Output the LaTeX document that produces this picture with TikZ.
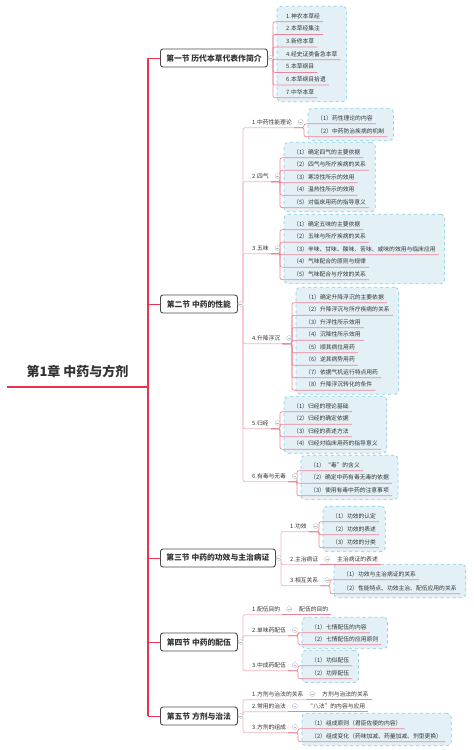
\documentclass[tikz,border=0pt]{standalone}
\usepackage{fontspec}
\setmainfont{Noto Sans CJK SC}
\usetikzlibrary{positioning, fit, backgrounds}
\definecolor{inkgray}{HTML}{333333}
\definecolor{secline}{HTML}{4A4A4A}
\definecolor{trunkred}{HTML}{E8344E}
\definecolor{branchpink}{HTML}{F5B3BF}
\definecolor{twigpink}{HTML}{EC8598}
\definecolor{grpbg}{HTML}{E3F1F6}
\definecolor{grpline}{HTML}{88CDE0}
\definecolor{foldline}{HTML}{B8BEC8}
\tikzset{
  rootnode/.style={
    anchor=south,
    minimum width=141pt,
    text height=10pt,
    text depth=1pt,
    inner ysep=9pt,
    text=inkgray,
    font=\bfseries\fontsize{13pt}{15pt}\selectfont
  },
  secbox/.style={
    anchor=west,
    draw=secline,
    fill=white,
    rounded corners=2.5pt,
    line width=0.9pt,
    minimum height=18pt,
    inner xsep=4pt,
    text=inkgray,
    font=\bfseries\fontsize{7.8pt}{9pt}\selectfont
  },
  topic/.style={
    anchor=west,
    inner xsep=2pt,
    inner ysep=2.5pt,
    text height=5pt,
    text depth=1pt,
    text=inkgray,
    font=\fontsize{5.8pt}{7pt}\selectfont
  },
  leaf/.style={
    topic,
    inner xsep=3pt
  },
  grp/.style={
    draw=grpline,
    dashed,
    fill=grpbg,
    rounded corners=4pt,
    line width=0.7pt,
    inner xsep=6pt,
    inner ysep=4pt
  },
  fold/.style={
    circle,
    draw=foldline,
    fill=white,
    line width=0.4pt,
    minimum size=5pt,
    inner sep=0pt,
    path picture={\draw[foldline, line width=0.5pt]
      ([xshift=-1.4pt]path picture bounding box.center) --
      ([xshift=1.4pt]path picture bounding box.center);}
  },
  trunk/.style={draw=trunkred, line width=1.8pt},
  tick/.style={draw=trunkred, line width=0.8pt},
  branch/.style={draw=branchpink, line width=0.8pt, rounded corners=2pt},
  twig/.style={draw=twigpink, line width=0.7pt, rounded corners=2pt}
}

\begin{document}
\begin{tikzpicture}[x=1pt, y=-1pt]
\useasboundingbox (0,0) rectangle (474,750);

% chapter and sections
\node[rootnode] (root) at (77.5,387) {第1章 中药与方剂};
\node[secbox, minimum width=107pt] (sec1) at (160,58) {第一节 历代本草代表作简介};
\node[secbox, minimum width=77pt] (sec2) at (160,304) {第二节 中药的性能};
\node[secbox, minimum width=115pt] (sec3) at (160,558) {第三节 中药的功效与主治病证};
\node[secbox, minimum width=77pt] (sec4) at (160,642) {第四节 中药的配伍};
\node[secbox, minimum width=77pt] (sec5) at (160,716) {第五节 方剂与治法};

% section 1
\node[leaf] (b1) at (283,16) {1.神农本草经};
\node[leaf] (b2) at (283,28.7) {2.本草经集注};
\node[leaf] (b3) at (283,41.3) {3.新修本草};
\node[leaf] (b4) at (283,54) {4.经史证类备急本草};
\node[leaf] (b5) at (283,66.7) {5.本草纲目};
\node[leaf] (b6) at (283,79.3) {6.本草纲目拾遗};
\node[leaf] (b7) at (283,92) {7.中华本草};

% section 2
\node[topic] (p1) at (250,122) {1.中药性能理论};
\node[leaf] (p1a) at (314,118) {（1）药性理论的内容};
\node[leaf] (p1b) at (314,131) {（2）中药防治疾病的机制};

\node[topic] (p2) at (250,176) {2.四气};
\node[leaf] (p2a) at (290,152) {（1）确定四气的主要依据};
\node[leaf] (p2b) at (290,164.5) {（2）四气与所疗疾病的关系};
\node[leaf] (p2c) at (290,177) {（3）寒凉性所示的效用};
\node[leaf] (p2d) at (290,189.5) {（4）温热性所示的效用};
\node[leaf] (p2e) at (290,202) {（5）对临床用药的指导意义};

\node[topic] (p3) at (250,248) {3.五味};
\node[leaf] (p3a) at (290,224) {（1）确定五味的主要依据};
\node[leaf] (p3b) at (290,236.5) {（2）五味与所疗疾病的关系};
\node[leaf] (p3c) at (290,249) {（3）辛味、甘味、酸味、苦味、咸味的效用与临床应用};
\node[leaf] (p3d) at (290,261.5) {（4）气味配合的原则与规律};
\node[leaf] (p3e) at (290,274) {（5）气味配合与疗效的关系};

\node[topic] (p4) at (250,338) {4.升降浮沉};
\node[leaf] (p4a) at (302,297) {（1）确定升降浮沉的主要依据};
\node[leaf] (p4b) at (302,309.5) {（2）升降浮沉与所疗疾病的关系};
\node[leaf] (p4c) at (302,322) {（3）升浮性所示效用};
\node[leaf] (p4d) at (302,334.5) {（4）沉降性所示效用};
\node[leaf] (p4e) at (302,347) {（5）顺其病位用药};
\node[leaf] (p4f) at (302,359.5) {（6）逆其病势用药};
\node[leaf] (p4g) at (302,372) {（7）依据气机运行特点用药};
\node[leaf] (p4h) at (302,384.5) {（8）升降浮沉转化的条件};

\node[topic] (p5) at (250,423) {5.归经};
\node[leaf] (p5a) at (290,406) {（1）归经的理论基础};
\node[leaf] (p5b) at (290,418.5) {（2）归经的确定依据};
\node[leaf] (p5c) at (290,431) {（3）归经的表述方法};
\node[leaf] (p5d) at (290,443.5) {（4）归经对临床用药的指导意义};

\node[topic] (p6) at (250,476) {6.有毒与无毒};
\node[leaf] (p6a) at (307,465) {（1）“毒”的含义};
\node[leaf] (p6b) at (307,477.5) {（2）确定中药有毒无毒的依据};
\node[leaf] (p6c) at (307,490) {（3）使用有毒中药的注意事项};

% section 3
\node[topic] (q1) at (288,526) {1.功效};
\node[leaf] (q1a) at (329,516) {（1）功效的认定};
\node[leaf] (q1b) at (329,529) {（2）功效的表述};
\node[leaf] (q1c) at (329,542) {（3）功效的分类};

\node[topic] (q2) at (288,559) {2.主治病证};
\node[leaf] (q2a) at (334,559) {主治病证的表述};

\node[topic] (q3) at (288,580) {3.相互关系};
\node[leaf] (q3a) at (340,574) {（1）功效与主治病证的关系};
\node[leaf] (q3b) at (340,588) {（2）性能特点、功效主治、配伍应用的关系};

% section 4
\node[topic] (r1) at (250,609) {1.配伍目的};
\node[leaf] (r1a) at (296,609) {配伍的目的};

\node[topic] (r2) at (250,630) {2.单味药配伍};
\node[leaf] (r2a) at (308,627) {（1）七情配伍的内容};
\node[leaf] (r2b) at (308,639) {（2）七情配伍的应用原则};

\node[topic] (r3) at (250,665) {3.中成药配伍};
\node[leaf] (r3a) at (308,660) {（1）功似配伍};
\node[leaf] (r3b) at (308,673) {（2）功异配伍};

% section 5
\node[topic] (t1) at (250,694) {1.方剂与治法的关系};
\node[leaf] (t1a) at (319,694) {方剂与治法的关系};

\node[topic] (t2) at (250,706) {2.常用的治法};
\node[leaf] (t2a) at (304,706) {“八法”的内容与应用};

\node[topic] (t3) at (250,727) {3.方剂的组成};
\node[leaf] (t3a) at (308,723) {（1）组成原则（君臣佐使的内容）};
\node[leaf] (t3b) at (308,736) {（2）组成变化（药味加减、药量加减、剂型更换）};

% dashed groups behind the leaves
\begin{scope}[on background layer]
  \node[grp, fit=(b1)(b2)(b3)(b4)(b5)(b6)(b7)] (g1) {};
  \node[grp, fit=(p1a)(p1b)] (gp1) {};
  \node[grp, fit=(p2a)(p2b)(p2c)(p2d)(p2e)] (gp2) {};
  \node[grp, fit=(p3a)(p3b)(p3c)(p3d)(p3e)] (gp3) {};
  \node[grp, fit=(p4a)(p4b)(p4c)(p4d)(p4e)(p4f)(p4g)(p4h)] (gp4) {};
  \node[grp, fit=(p5a)(p5b)(p5c)(p5d)] (gp5) {};
  \node[grp, fit=(p6a)(p6b)(p6c)] (gp6) {};
  \node[grp, fit=(q1a)(q1b)(q1c)] (gq1) {};
  \node[grp, fit=(q3a)(q3b)] (gq3) {};
  \node[grp, fit=(r2a)(r2b)] (gr2) {};
  \node[grp, fit=(r3a)(r3b)] (gr3) {};
  \node[grp, fit=(t3a)(t3b)] (gt3) {};
\end{scope}

% trunk
\draw[trunk, line width=2.4pt] (root.south west) -- (root.south east);
\draw[trunk] (root.south east |- sec1.west) -- (root.south east |- sec5.west);
\foreach \s in {sec1,sec2,sec3,sec4,sec5}
  \draw[tick] (root.south east |- \s.west) -- (\s.west);

% section to topic
\foreach \c in {p1,p2,p3,p4,p5,p6}
  \draw[branch] (sec2.east) -| ([xshift=-7pt]\c.south west) -- (\c.south east);
\foreach \c in {q1,q2,q3}
  \draw[branch] (sec3.east) -| ([xshift=-7pt]\c.south west) -- (\c.south east);
\foreach \c in {r1,r2,r3}
  \draw[branch] (sec4.east) -| ([xshift=-7pt]\c.south west) -- (\c.south east);
\foreach \c in {t1,t2,t3}
  \draw[branch] (sec5.east) -| ([xshift=-7pt]\c.south west) -- (\c.south east);

% topic to leaf
\foreach \c in {b1,b2,b3,b4,b5,b6,b7}
  \draw[twig] (sec1.east) -| ([xshift=-10pt]\c.south west) -- (\c.south east);
\foreach \c in {p1a,p1b}
  \draw[twig] (p1.south east) -| ([xshift=-10pt]\c.south west) -- (\c.south east);
\foreach \c in {p2a,p2b,p2c,p2d,p2e}
  \draw[twig] (p2.south east) -| ([xshift=-10pt]\c.south west) -- (\c.south east);
\foreach \c in {p3a,p3b,p3c,p3d,p3e}
  \draw[twig] (p3.south east) -| ([xshift=-10pt]\c.south west) -- (\c.south east);
\foreach \c in {p4a,p4b,p4c,p4d,p4e,p4f,p4g,p4h}
  \draw[twig] (p4.south east) -| ([xshift=-10pt]\c.south west) -- (\c.south east);
\foreach \c in {p5a,p5b,p5c,p5d}
  \draw[twig] (p5.south east) -| ([xshift=-10pt]\c.south west) -- (\c.south east);
\foreach \c in {p6a,p6b,p6c}
  \draw[twig] (p6.south east) -| ([xshift=-10pt]\c.south west) -- (\c.south east);
\foreach \c in {q1a,q1b,q1c}
  \draw[twig] (q1.south east) -| ([xshift=-10pt]\c.south west) -- (\c.south east);
\draw[twig] (q2.south east) -- (q2a.south east);
\foreach \c in {q3a,q3b}
  \draw[twig] (q3.south east) -| ([xshift=-10pt]\c.south west) -- (\c.south east);
\draw[twig] (r1.south east) -- (r1a.south east);
\foreach \c in {r2a,r2b}
  \draw[twig] (r2.south east) -| ([xshift=-10pt]\c.south west) -- (\c.south east);
\foreach \c in {r3a,r3b}
  \draw[twig] (r3.south east) -| ([xshift=-10pt]\c.south west) -- (\c.south east);
\draw[twig] (t1.south east) -- (t1a.south east);
\draw[twig] (t2.south east) -- (t2a.south east);
\foreach \c in {t3a,t3b}
  \draw[twig] (t3.south east) -| ([xshift=-10pt]\c.south west) -- (\c.south east);

% fold markers
\foreach \s in {sec1,sec2,sec3,sec4,sec5}
  \node[fold, right=0pt of \s] (f\s) {};
\foreach \c in {p1,p2,p3,p4,p5,p6,q1,q2,q3,r1,r2,r3,t1,t2,t3}
  \node[fold, right=4pt of \c] (f\c) {};

\end{tikzpicture}
\end{document}
